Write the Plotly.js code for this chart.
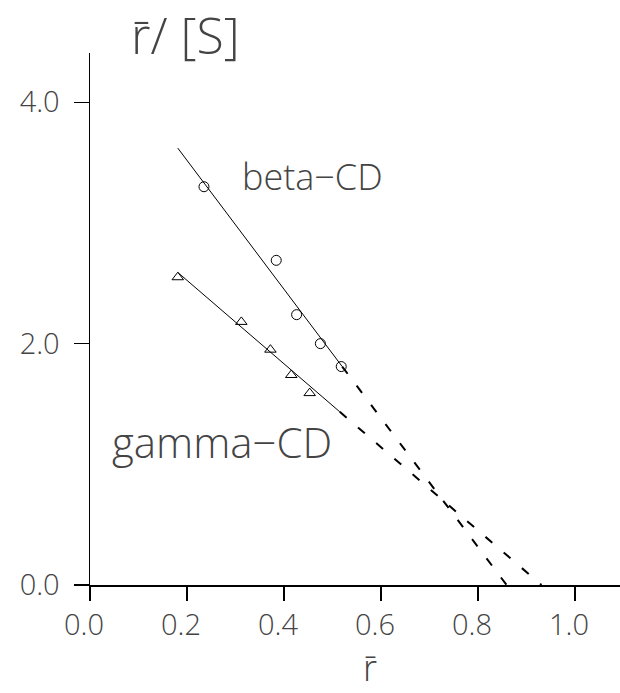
<!DOCTYPE html>
<html>
<head>
<meta charset="utf-8">
<script src="https://cdn.plot.ly/plotly-3.0.1.min.js"></script>
<style>html,body{margin:0;padding:0;background:#fff;}</style>
</head>
<body>
<div id="chart" style="width:620px;height:693px;"></div>
<script>
// beta-CD points
const betaX = [0.235, 0.384, 0.426, 0.475, 0.518];
const betaY = [3.30, 2.69, 2.24, 2.00, 1.81];
// gamma-CD points
const gammaX = [0.181, 0.312, 0.372, 0.415, 0.453];
const gammaY = [2.55, 2.18, 1.95, 1.74, 1.59];
// fitted lines: solid part then dashed extrapolation to the x axis
const betaFitX = [0.181, 0.52];
const betaFitY = [3.62, 1.81];
const betaExtX = [0.52, 0.859];
const betaExtY = [1.81, 0.0];
const gammaFitX = [0.181, 0.515];
const gammaFitY = [2.59, 1.435];
const gammaExtX = [0.515, 0.931];
const gammaExtY = [1.435, 0.0];
const xTicks = [0.0, 0.2, 0.4, 0.6, 0.8, 1.0];
const xTickText = ['0.0', '0.2', '0.4', '0.6', '0.8', '1.0'];
const yTicks = [0.0, 2.0, 4.0];
const yTickText = ['0.0', '2.0', '4.0'];

const FONT = 'Open Sans';
const lab = {family: FONT, size: 29, color: '#444', weight: 300};
const RBAR = 'r\u0304';
const px = v => (v - 90) / 530;      // page x -> paper x
const py = v => (585 - v) / 532;     // page y -> paper y

const traces = [
  {x: betaFitX, y: betaFitY, mode: 'lines', line: {color: '#000', width: 1}},
  {x: betaExtX, y: betaExtY, mode: 'lines', line: {color: '#000', width: 2, dash: '9px,15px'}},
  {x: gammaFitX, y: gammaFitY, mode: 'lines', line: {color: '#000', width: 1}},
  {x: gammaExtX, y: gammaExtY, mode: 'lines', line: {color: '#000', width: 2, dash: '9px,15px'}},
  {x: betaX, y: betaY, mode: 'markers', marker: {symbol: 'circle-open', size: 10, color: '#000', line: {width: 1}}},
  {x: gammaX, y: gammaY, mode: 'markers', marker: {symbol: 'triangle-up-open', size: 10, color: '#000', line: {width: 1}}}
];

const ann = (text, x, y, size, anchorY) => ({
  text, xref: 'paper', yref: 'paper', x: px(x), y: py(y), xanchor: 'center', yanchor: anchorY || 'middle',
  showarrow: false, borderpad: 0, font: {family: FONT, size, color: '#444', weight: 300}
});

const layout = {
  width: 620, height: 693,
  margin: {l: 90, r: 0, t: 53, b: 108},
  paper_bgcolor: '#fff', plot_bgcolor: '#fff',
  showlegend: false,
  xaxis: {
    range: [0, 1.0928], tickvals: xTicks, ticktext: xTickText,
    showgrid: false, zeroline: false, showline: true, linecolor: '#000', linewidth: 1.5,
    ticks: 'outside', ticklen: 14, tickwidth: 1.2, tickcolor: '#000',
    tickfont: lab, ticklabelshift: -6, ticklabelstandoff: 0
  },
  yaxis: {
    range: [0, 4.408], tickvals: yTicks, ticktext: yTickText,
    showgrid: false, zeroline: false, showline: true, linecolor: '#000', linewidth: 1.5,
    ticks: 'outside', ticklen: 15, tickwidth: 1.2, tickcolor: '#000',
    tickfont: lab, ticklabelstandoff: 8
  },
  annotations: [
    ann(RBAR + '/ [S]', 185, 0, 50, 'top'),
    ann(RBAR, 370, 693, 36, 'bottom'),
    ann('beta−CD', 312, 176, 36),
    ann('gamma−CD', 222, 441, 42)
  ]
};

Plotly.newPlot('chart', traces, layout, {displayModeBar: false, staticPlot: true});
</script>
</body>
</html>
